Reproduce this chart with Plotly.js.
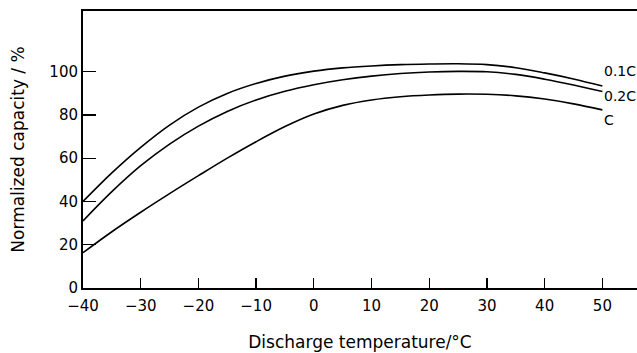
<!DOCTYPE html>
<html>
<head>
<meta charset="utf-8">
<script src="https://cdn.plot.ly/plotly-3.0.1.min.js"></script>
<style>html,body{margin:0;padding:0;background:#fff;}#chart{width:637px;height:353px;}</style>
</head>
<body>
<div id="chart"></div>
<script>
const temps = [-40, -35, -30, -25, -20, -15, -10, -5, 0, 5, 10, 15, 20, 25, 30, 35, 40, 45, 50];
const cap01C = [40, 53.2, 65, 75.3, 83.6, 89.9, 94.5, 97.9, 100.2, 101.7, 102.6, 103.2, 103.5, 103.6, 103.2, 101.8, 99.4, 96.6, 93.3];
const cap02C = [31, 44.5, 56.5, 66.5, 74.8, 81.6, 86.9, 90.9, 93.9, 96.2, 97.9, 99.1, 99.8, 100.1, 99.9, 98.7, 96.5, 93.8, 90.8];
const cap1C = [16.3, 26, 35, 43.6, 51.9, 60, 67.6, 74.6, 80.4, 84.4, 86.9, 88.4, 89.2, 89.6, 89.5, 88.8, 87.3, 85.1, 82.3];
const seriesNames = ["0.1C", "0.2C", "C"];
const labelY = [100.1, 88.5, 77.6];
const xTicks = [-40, -30, -20, -10, 0, 10, 20, 30, 40, 50];
const yTicks = [0, 20, 40, 60, 80, 100];

const font = "DejaVu Sans, sans-serif";
const series = [cap01C, cap02C, cap1C];
const traces = series.map((ys, i) => ({
  x: temps, y: ys, type: "scatter", mode: "lines", name: seriesNames[i],
  line: {color: "#000", width: 1.6, shape: "spline", smoothing: 1},
  hoverinfo: "skip"
}));

const annotations = seriesNames.map((n, i) => ({
  x: 50, y: labelY[i], xref: "x", yref: "y", text: n, showarrow: false,
  xanchor: "left", yanchor: "middle",
  font: {family: font, size: 14, color: "#000"}
}));

const layout = {
  width: 637, height: 353,
  margin: {l: 83, r: 0, t: 11, b: 65},
  paper_bgcolor: "#fff", plot_bgcolor: "#fff",
  showlegend: false,
  font: {family: font, size: 15, color: "#000"},
  xaxis: {
    range: [-40, 56], tickvals: xTicks, ticktext: xTicks.map(v => v < 0 ? "\u2212" + Math.abs(v) : String(v)),
    ticks: "inside", ticklen: 10, tickwidth: 1.3, tickcolor: "#000",
    showline: true, linecolor: "#000", linewidth: 2, mirror: true,
    showgrid: false, zeroline: false, ticklabelstandoff: 3,
    tickfont: {family: font, size: 15, color: "#000"},
    title: {text: "Discharge temperature/°C", font: {family: font, size: 17, color: "#000"}, standoff: 22}
  },
  yaxis: {
    range: [0, 128], tickvals: yTicks,
    ticks: "inside", ticklen: 13, tickwidth: 1.3, tickcolor: "#000",
    showline: true, linecolor: "#000", linewidth: 2,
    showgrid: false, zeroline: false,
    tickfont: {family: font, size: 15, color: "#000"},
    title: {text: "Normalized capacity / %", font: {family: font, size: 17, color: "#000"}, standoff: 20}
  },
  annotations: annotations
};

Plotly.newPlot("chart", traces, layout, {staticPlot: true, displayModeBar: false});
</script>
</body>
</html>
